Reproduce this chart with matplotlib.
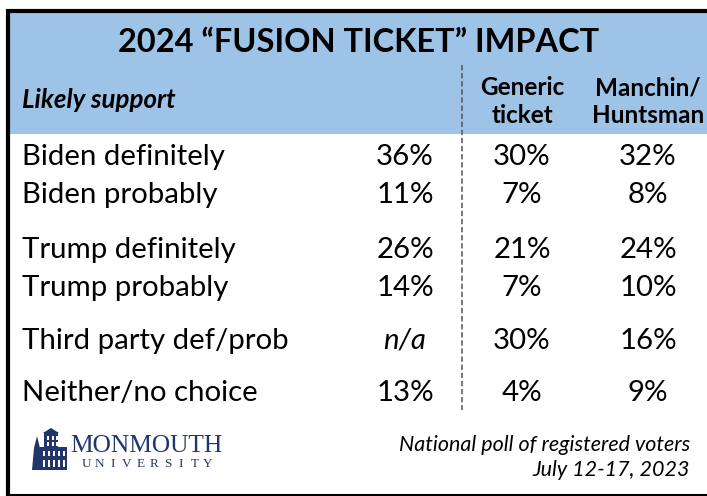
import matplotlib
matplotlib.use("Agg")
import matplotlib.pyplot as plt
from matplotlib.patches import Rectangle, Polygon

# ---------------- data ----------------
title = "2024 \u201cFUSION TICKET\u201d IMPACT"
header_label = "Likely support"
col_headers = ["", "Generic\nticket", "Manchin/\nHuntsman"]
row_labels = ["Biden definitely", "Biden probably", "Trump definitely",
              "Trump probably", "Third party def/prob", "Neither/no choice"]
col_base = ["36%", "11%", "26%", "14%", "n/a", "13%"]
col_generic = ["30%", "7%", "21%", "7%", "30%", "4%"]
col_manchin = ["32%", "8%", "24%", "10%", "16%", "9%"]
footer_lines = ["National poll of registered voters", "July 12-17, 2023"]

# ---------------- layout ----------------
W, H = 707, 496
BLUE = "#9DC3E6"
NAVY = "#22366B"
FONT = "Lato"

fig = plt.figure(figsize=(W / 100, H / 100), dpi=100)
ax = fig.add_axes([0, 0, 1, 1])
ax.set_xlim(0, W)
ax.set_ylim(H, 0)
ax.axis("off")

# background band and frame
ax.add_patch(Rectangle((8, 11), W, 123, facecolor=BLUE, edgecolor="none"))
ax.plot([8, 8], [9, 495], color="black", lw=3.0, solid_capstyle="butt")
ax.plot([6, W], [11, 11], color="black", lw=3.0, solid_capstyle="butt")
ax.plot([6, W], [494.5, 494.5], color="black", lw=1.5, solid_capstyle="butt")

# title
ax.text(359, 52, title, ha="center", va="baseline", fontsize=23.4,
        fontweight="bold", family=FONT, color="black")

# header row
HDR = 17.5
ax.text(22, 108, header_label, ha="left", va="baseline", fontsize=18.6,
        fontweight="bold", style="italic", family=FONT)
col_x = [405, 522, 648]
for x, hdr in zip(col_x, col_headers):
    if hdr:
        l1, l2 = hdr.split("\n")
        ax.text(x, 95, l1, ha="center", va="baseline", fontsize=HDR,
                fontweight="bold", family=FONT)
        ax.text(x, 123, l2, ha="center", va="baseline", fontsize=HDR,
                fontweight="bold", family=FONT)

# dashed divider
ax.plot([462, 462], [65, 410], color="#555555", lw=1.1,
        dashes=(3.5, 1.8))

# rows
ROW = 21.2
baselines = [165, 203, 258, 296, 349, 401]
for i, lab in enumerate(row_labels):
    y = baselines[i]
    ax.text(22, y, lab, ha="left", va="baseline", fontsize=ROW, family=FONT)
    for x, col in zip(col_x, [col_base, col_generic, col_manchin]):
        v = col[i]
        ax.text(x, y, v, ha="center", va="baseline", fontsize=ROW,
                family=FONT, style="italic" if v == "n/a" else "normal")

# footer text
ax.text(690, 451, footer_lines[0], ha="right", va="baseline", fontsize=15.5,
        style="italic", family=FONT)
ax.text(690, 476, footer_lines[1], ha="right", va="baseline", fontsize=15.5,
        style="italic", family=FONT)

# logo: simple building illustration
ax.add_patch(Polygon([[32, 470], [34, 448], [37, 436], [40, 448], [42, 470]],
                     closed=True, facecolor=NAVY, edgecolor="none"))
ax.add_patch(Rectangle((40, 447), 27, 23, facecolor=NAVY, edgecolor="none"))
ax.add_patch(Rectangle((44, 432), 14, 16, facecolor=NAVY, edgecolor="none"))
ax.add_patch(Polygon([[43, 433], [51, 428], [59, 433]], closed=True,
                     facecolor=NAVY, edgecolor="none"))
for wx in [46.5, 51.5, 55.5]:
    ax.add_patch(Rectangle((wx, 436), 2, 4, facecolor="white", edgecolor="none"))
    ax.add_patch(Rectangle((wx, 442), 2, 4, facecolor="white", edgecolor="none"))
for wx in [43, 48, 53, 58, 62.5]:
    ax.add_patch(Rectangle((wx, 451), 2.2, 5, facecolor="white", edgecolor="none"))
    ax.add_patch(Rectangle((wx, 460), 2.2, 7, facecolor="white", edgecolor="none"))

ax.text(70, 452, "MONMOUTH", ha="left", va="baseline", fontsize=18.3,
        family="Liberation Serif", color=NAVY)
uni = "UNIVERSITY"
ux0, ux1 = 86, 208
for k, ch in enumerate(uni):
    xx = ux0 + (ux1 - ux0) * k / (len(uni) - 1)
    ax.text(xx, 467, ch, ha="center", va="baseline", fontsize=9.5,
            family="Liberation Serif", color=NAVY)

fig.savefig("out.png", dpi=100, facecolor="white")
